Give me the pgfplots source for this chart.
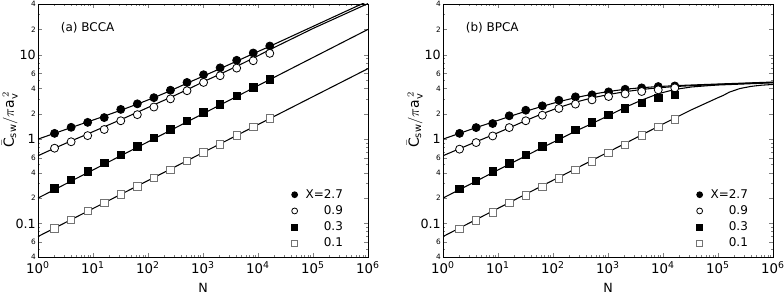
\documentclass[border=0pt]{standalone}
\usepackage{fontspec}
\setmainfont{DejaVu Sans}
\usepackage{amsmath}
\usepackage{pgfplots}
\pgfplotsset{compat=1.18}

\newcommand\tsm{\fontsize{5.5}{5.5}\selectfont}
\newcommand\tbg{\fontsize{9.5}{9.5}\selectfont}
\newcommand\xpow[1]{10\textsuperscript{#1}}
\newcommand\legtxt[1]{\makebox[32pt][r]{#1}}

\tikzset{
  myfit/.style={black, line width=0.8pt, mark=none},
  markFC/.style={mark=*, mark size=3pt, mark options={draw=black, fill=black, line width=0.6pt}},
  markOC/.style={mark=*, mark size=3pt, mark options={draw=black, fill=white, line width=0.6pt}},
  markFS/.style={mark=square*, mark size=2.8pt, mark options={draw=black, fill=black, line width=0.6pt}},
  markOS/.style={mark=square*, mark size=2.8pt, mark options={draw=black!55, fill=white, line width=0.6pt}},
}

\begin{document}
\begin{tikzpicture}
% ---------------- (a) BCCA
\begin{axis}[
    xmode=log, ymode=log,
    scale only axis, width=247.5pt, height=189.75pt,
    xmin=1, xmax=1000000, ymin=0.04, ymax=40,
    axis line style={line width=0.6pt},
    xtick={1,10,100,1000,10000,100000,1000000},
    xticklabels={\xpow{0},\xpow{1},\xpow{2},\xpow{3},\xpow{4},\xpow{5},\xpow{6}},
    minor xtick={2,3,4,5,6,7,8,9,20,30,40,50,60,70,80,90,
      200,300,400,500,600,700,800,900,2000,3000,4000,5000,6000,7000,8000,9000,
      20000,30000,40000,50000,60000,70000,80000,90000,
      200000,300000,400000,500000,600000,700000,800000,900000},
    ytick={0.04,0.06,0.1,0.2,0.4,0.6,1,2,4,6,10,20,40},
    yticklabels={\tsm 4,\tsm 6,\tbg 0.1\hspace{2.5pt},\tsm 2,\tsm 4,\tsm 6,
      \tbg 1\hspace{2.5pt},\tsm 2,\tsm 4,\tsm 6,\tbg 10\hspace{2.5pt},\tsm 2,\tsm 4},
    minor ytick={0.05,0.07,0.08,0.09,0.3,0.5,0.7,0.8,0.9,3,5,7,8,9,30},
    major tick length=3pt, minor tick length=1.6pt,
    xticklabel style={font=\fontsize{10}{10}\selectfont},
    yticklabel style={inner sep=1.5pt},
    xlabel={N}, xlabel style={font=\fontsize{9.5}{9.5}\selectfont},
    ylabel={$\bar{\text{C}}_{\text{sw}}/\pi\text{a}_{\text{v}}^{\,2}$},
    ylabel style={font=\fontsize{10.5}{10.5}\selectfont, xshift=8pt},
    ylabel shift=-6.5pt,
    legend style={draw=none, fill=none, at={(0.945,0.01)}, anchor=south east,
      font=\fontsize{9}{9}\selectfont},
    legend cell align=right,
    legend image code/.code={\draw[mark repeat=2,mark phase=2,#1,mark size=2.2pt]
      plot coordinates {(0cm,0cm) (0.15cm,0cm) (0.3cm,0cm)};},
]
\addplot[myfit, forget plot] coordinates {(1,1.0)(2,1.17)(4,1.37)(8,1.6)(16,1.87)(32,2.2)(64,2.6)(128,3.1)
  (256,3.75)(512,4.6)(1024,5.6)(2048,6.85)(4096,8.4)(8192,10.3)(16384,12.6)(100000,21.7)(1000000,43.3)};
\addplot[myfit, forget plot] coordinates {(1,0.635)(2,0.78)(4,0.95)(8,1.15)(16,1.4)(32,1.7)(64,2.08)(128,2.55)
  (256,3.12)(512,3.85)(1024,4.8)(2048,5.9)(4096,7.3)(8192,9.1)(16384,11.5)(100000,20.5)(1000000,40.5)};
\addplot[myfit, forget plot] coordinates {(1,0.2)(1000000,20)};
\addplot[myfit, forget plot] coordinates {(1,0.07)(1000000,6.85)};
\addplot[only marks, markFC] coordinates {(2,1.17)(4,1.38)(8,1.58)(16,1.8)(32,2.25)(64,2.62)(128,3.1)(256,3.8)
  (512,4.7)(1024,5.8)(2048,7.0)(4096,8.6)(8192,10.5)(16384,12.7)};
\addplot[only marks, markOC] coordinates {(2,0.78)(4,0.93)(8,1.1)(16,1.3)(32,1.65)(64,1.95)(128,2.4)(256,3.0)
  (512,3.75)(1024,4.7)(2048,5.65)(4096,6.95)(8192,8.5)(16384,10.4)};
\addplot[only marks, markFS] coordinates {(2,0.26)(4,0.327)(8,0.415)(16,0.52)(32,0.653)(64,0.82)(128,1.04)(256,1.31)
  (512,1.65)(1024,2.07)(2048,2.57)(4096,3.25)(8192,4.09)(16384,5.13)};
\addplot[only marks, markOS] coordinates {(2,0.0877)(4,0.11)(8,0.14)(16,0.174)(32,0.22)(64,0.275)(128,0.345)(256,0.434)
  (512,0.554)(1024,0.695)(2048,0.87)(4096,1.11)(8192,1.40)(16384,1.77)};
\legend{{\legtxt{X=2.7}},{\legtxt{0.9}},{\legtxt{0.3}},{\legtxt{0.1}}}
\node[anchor=west, font=\fontsize{9}{9}\selectfont] at (rel axis cs:0.055,0.905) {(a) BCCA};
\end{axis}
% ---------------- (b) BPCA
\begin{axis}[
    at={(303.75pt,0pt)},
    xmode=log, ymode=log,
    scale only axis, width=247.5pt, height=189.75pt,
    xmin=1, xmax=1000000, ymin=0.04, ymax=40,
    axis line style={line width=0.6pt},
    xtick={1,10,100,1000,10000,100000,1000000},
    xticklabels={\xpow{0},\xpow{1},\xpow{2},\xpow{3},\xpow{4},\xpow{5},\xpow{6}},
    minor xtick={2,3,4,5,6,7,8,9,20,30,40,50,60,70,80,90,
      200,300,400,500,600,700,800,900,2000,3000,4000,5000,6000,7000,8000,9000,
      20000,30000,40000,50000,60000,70000,80000,90000,
      200000,300000,400000,500000,600000,700000,800000,900000},
    ytick={0.04,0.06,0.1,0.2,0.4,0.6,1,2,4,6,10,20,40},
    yticklabels={\tsm 4,\tsm 6,\tbg 0.1\hspace{2.5pt},\tsm 2,\tsm 4,\tsm 6,
      \tbg 1\hspace{2.5pt},\tsm 2,\tsm 4,\tsm 6,\tbg 10\hspace{2.5pt},\tsm 2,\tsm 4},
    minor ytick={0.05,0.07,0.08,0.09,0.3,0.5,0.7,0.8,0.9,3,5,7,8,9,30},
    major tick length=3pt, minor tick length=1.6pt,
    xticklabel style={font=\fontsize{10}{10}\selectfont},
    yticklabel style={inner sep=1.5pt},
    xlabel={N}, xlabel style={font=\fontsize{9.5}{9.5}\selectfont},
    ylabel={$\bar{\text{C}}_{\text{sw}}/\pi\text{a}_{\text{v}}^{\,2}$},
    ylabel style={font=\fontsize{10.5}{10.5}\selectfont, xshift=8pt},
    ylabel shift=-6.5pt,
    legend style={draw=none, fill=none, at={(0.945,0.01)}, anchor=south east,
      font=\fontsize{9}{9}\selectfont},
    legend cell align=right,
    legend image code/.code={\draw[mark repeat=2,mark phase=2,#1,mark size=2.2pt]
      plot coordinates {(0cm,0cm) (0.15cm,0cm) (0.3cm,0cm)};},
]
\addplot[myfit, forget plot] coordinates {(1,1.0)(2,1.17)(4,1.37)(8,1.59)(16,1.85)(32,2.14)(64,2.45)(128,2.78)
  (256,3.1)(512,3.4)(1024,3.67)(2048,3.9)(4096,4.07)(8192,4.2)(16384,4.3)(32768,4.38)(100000,4.5)(1000000,4.75)};
\addplot[myfit, forget plot] coordinates {(1,0.635)(2,0.77)(4,0.93)(8,1.12)(16,1.36)(32,1.66)(64,2.0)(128,2.37)
  (256,2.74)(512,3.08)(1024,3.38)(2048,3.65)(4096,3.88)(8192,4.06)(16384,4.2)(32768,4.3)(100000,4.45)(1000000,4.7)};
\addplot[myfit, forget plot] coordinates {(1,0.2)(2,0.252)(4,0.317)(8,0.4)(16,0.503)(32,0.633)(64,0.795)(128,0.99)
  (256,1.24)(512,1.53)(1024,1.9)(2048,2.38)(4096,2.9)(8192,3.45)(16384,3.88)(32768,4.15)(65536,4.3)
  (100000,4.38)(1000000,4.65)};
\addplot[myfit, forget plot] coordinates {(1,0.07)(10,0.151)(100,0.325)(1000,0.70)(10000,1.51)(31623,2.2)(100000,3.1)
  (125000,3.3)(160000,3.6)(250000,3.98)(400000,4.22)(600000,4.35)(1000000,4.45)};
\addplot[only marks, markFC] coordinates {(2,1.17)(4,1.37)(8,1.53)(16,1.89)(32,2.2)(64,2.48)(128,2.89)(256,3.17)
  (512,3.35)(1024,3.63)(2048,3.9)(4096,4.05)(8192,4.2)(16384,4.27)};
\addplot[only marks, markOC] coordinates {(2,0.76)(4,0.91)(8,1.09)(16,1.37)(32,1.65)(64,1.92)(128,2.31)(256,2.6)
  (512,2.92)(1024,3.2)(2048,3.44)(4096,3.67)(8192,3.84)(16384,4.05)};
\addplot[only marks, markFS] coordinates {(2,0.256)(4,0.32)(8,0.414)(16,0.515)(32,0.653)(64,0.82)(128,1.02)(256,1.28)
  (512,1.57)(1024,1.94)(2048,2.31)(4096,2.67)(8192,3.06)(16384,3.34)};
\addplot[only marks, markOS] coordinates {(2,0.086)(4,0.108)(8,0.136)(16,0.174)(32,0.214)(64,0.273)(128,0.342)(256,0.43)
  (512,0.544)(1024,0.683)(2048,0.857)(4096,1.11)(8192,1.4)(16384,1.72)};
\legend{{\legtxt{X=2.7}},{\legtxt{0.9}},{\legtxt{0.3}},{\legtxt{0.1}}}
\node[anchor=west, font=\fontsize{9}{9}\selectfont] at (rel axis cs:0.055,0.905) {(b) BPCA};
\end{axis}
\pgfresetboundingbox
\path (-28.5pt,-29.25pt) rectangle (559.5pt,192.75pt);
\end{tikzpicture}
\end{document}
